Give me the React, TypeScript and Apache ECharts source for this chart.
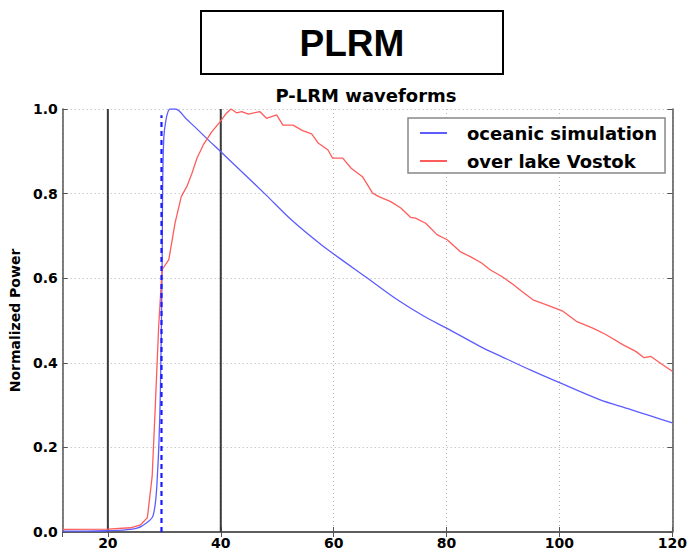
import React, { useEffect, useRef } from 'react';
import * as echarts from 'echarts';

const oceanicX = [12, 16, 20, 24, 26, 28, 28.8, 29.3, 29.6, 29.9, 31, 32, 34, 36, 38, 40, 44, 48, 52.5, 57.8, 62, 66, 71.3, 76, 80, 85.9, 90, 95, 100, 107.1, 112, 116, 120];
const oceanicY = [0.002, 0.002, 0.003, 0.006, 0.014, 0.038, 0.14, 0.33, 0.62, 0.93, 1.0, 1.0, 0.975, 0.95, 0.924, 0.899, 0.848, 0.797, 0.738, 0.679, 0.638, 0.6, 0.549, 0.51, 0.482, 0.439, 0.413, 0.382, 0.353, 0.313, 0.292, 0.275, 0.258];

const vostokX = [12, 20, 24, 25.8, 27.0, 27.85, 28.4, 29.0, 29.6, 30.8, 31.9, 33.0, 34.0, 34.9, 35.8, 36.9, 38.4, 39.9, 41.0, 41.8, 42.8, 43.7, 44.9, 46.9, 48.1, 49.9, 51.0, 52.8, 54.5, 56.1, 57.3, 59.0, 59.8, 61.6, 63.1, 65.1, 66.9, 68.0, 70.1, 71.9, 73.6, 74.5, 76.3, 78.3, 80.1, 82.4, 84.2, 86.2, 87.7, 89.8, 91.8, 93.3, 95.3, 97.7, 100.6, 103.0, 105.9, 108.2, 111.2, 113.5, 115.0, 116.2, 118.2, 120.0];
const vostokY = [0.006, 0.007, 0.01, 0.017, 0.034, 0.132, 0.297, 0.486, 0.62, 0.644, 0.73, 0.793, 0.817, 0.848, 0.884, 0.915, 0.946, 0.97, 0.99, 1.0, 0.991, 0.994, 0.988, 0.994, 0.978, 0.986, 0.962, 0.962, 0.949, 0.941, 0.919, 0.903, 0.884, 0.884, 0.86, 0.84, 0.801, 0.793, 0.781, 0.766, 0.744, 0.742, 0.73, 0.703, 0.691, 0.663, 0.651, 0.636, 0.62, 0.604, 0.585, 0.569, 0.549, 0.537, 0.522, 0.498, 0.482, 0.467, 0.443, 0.427, 0.412, 0.415, 0.396, 0.38];

const windowX = [20, 40];
const windowY = [0, 1];
const trackerX = 29.5;
const trackerY = [0, 0.985];

const xMin = 12;
const xMax = 120;

export default function App() {
  const ref = useRef<HTMLDivElement>(null);
  useEffect(() => {
    document.body.style.margin = '0';
    const chart = echarts.init(ref.current!, null, { renderer: 'svg' });
    const font = 'DejaVu Sans';
    const frame = { show: true, lineStyle: { color: '#555', width: 1.5 } };
    const tickIn = { show: true, inside: true, length: 5, lineStyle: { color: '#555', width: 1 } };
    chart.setOption({
      animation: false,
      title: {
        text: 'P-LRM waveforms',
        left: 366,
        top: 86,
        textAlign: 'center',
        padding: 0,
        textStyle: { fontFamily: font, fontWeight: 'bold', fontSize: 18, color: '#000' },
      },
      graphic: [
        {
          type: 'rect',
          shape: { x: 201, y: 11, width: 302, height: 63 },
          style: { fill: '#fff', stroke: '#000', lineWidth: 2 },
        },
        {
          type: 'text',
          x: 352,
          y: 43,
          style: {
            text: 'PLRM',
            font: 'bold 37px "Liberation Sans", Arial, sans-serif',
            fill: '#000',
            textAlign: 'center',
            textVerticalAlign: 'middle',
          },
        },
      ],
      legend: {
        data: ['oceanic simulation', 'over lake Vostok'],
        orient: 'vertical',
        left: 408,
        top: 118,
        padding: [6, 8, 3, 12],
        itemGap: 10,
        itemWidth: 27,
        itemHeight: 2,
        icon: 'rect',
        borderColor: '#888',
        borderWidth: 1.5,
        backgroundColor: '#fff',
        textStyle: { fontFamily: font, fontWeight: 'bold', fontSize: 18, lineHeight: 18, color: '#000', padding: [0, 0, 0, 15] },
      },
      grid: { left: 60, top: 109, right: 17, bottom: 17, containLabel: false },
      xAxis: [
        {
          type: 'value',
          min: xMin,
          max: xMax,
          splitNumber: 5,
          axisLine: frame,
          axisTick: tickIn,
          axisLabel: {
            showMinLabel: false,
            margin: 4,
            fontFamily: font,
            fontWeight: 'bold',
            fontSize: 14,
            color: '#000',
          },
          splitLine: { show: true, lineStyle: { color: '#b4b4b4', type: [1, 3], width: 1 } },
        },
        {
          type: 'value',
          position: 'top',
          min: xMin,
          max: xMax,
          splitNumber: 5,
          axisLine: frame,
          axisTick: tickIn,
          axisLabel: { show: false },
          splitLine: { show: false },
        },
      ],
      yAxis: [
        {
          type: 'value',
          min: 0,
          max: 1,
          interval: 0.2,
          name: 'Normalized Power',
          nameLocation: 'middle',
          nameRotate: 90,
          nameGap: 40,
          nameTextStyle: { fontFamily: font, fontWeight: 'bold', fontSize: 14, color: '#000' },
          axisLine: frame,
          axisTick: tickIn,
          axisLabel: {
            margin: 5,
            fontFamily: font,
            fontWeight: 'bold',
            fontSize: 14,
            color: '#000',
            formatter: (v: number) => v.toFixed(1),
          },
          splitLine: { show: true, lineStyle: { color: '#b4b4b4', type: [1, 3], width: 1 } },
        },
        {
          type: 'value',
          position: 'right',
          min: 0,
          max: 1,
          interval: 0.2,
          axisLine: frame,
          axisTick: tickIn,
          axisLabel: { show: false },
          splitLine: { show: false },
        },
      ],
      series: [
        ...windowX.map((x, i) => ({
          name: 'window' + i,
          type: 'line',
          silent: true,
          symbol: 'none',
          data: windowY.map((y) => [x, y]),
          lineStyle: { color: '#3a3a3a', width: 2 },
          z: 1,
        })),
        {
          name: 'tracker',
          type: 'line',
          silent: true,
          symbol: 'none',
          data: trackerY.map((y) => [trackerX, y]),
          lineStyle: { color: '#1a1aff', width: 2.2, type: [5, 4] },
          z: 3,
        },
        {
          name: 'oceanic simulation',
          type: 'line',
          symbol: 'none',
          smooth: 0.3,
          data: oceanicX.map((x, i) => [x, oceanicY[i]]),
          color: '#5c5cff',
          lineStyle: { color: '#5c5cff', width: 1.3 },
          z: 2,
        },
        {
          name: 'over lake Vostok',
          type: 'line',
          symbol: 'none',
          data: vostokX.map((x, i) => [x, vostokY[i]]),
          color: '#ff5c5c',
          lineStyle: { color: '#ff5c5c', width: 1.3 },
          z: 2,
        },
      ],
    });
    return () => chart.dispose();
  }, []);
  return <div ref={ref} style={{ width: 690, height: 550 }} />;
}
